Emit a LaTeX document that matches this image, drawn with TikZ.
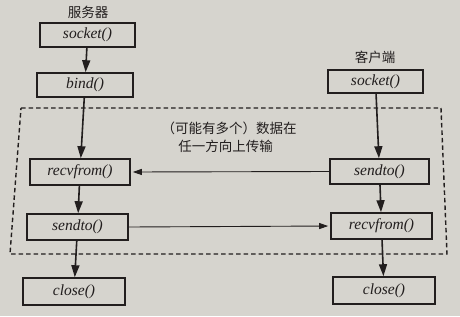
\documentclass[tikz,border=0pt]{standalone}
\usepackage{fontspec}
\setmainfont{Liberation Serif}
\newfontfamily\cjk{Noto Sans CJK SC}
\usetikzlibrary{arrows.meta}
\definecolor{paper}{RGB}{214,212,206}
\definecolor{ink}{RGB}{34,30,30}
\tikzset{
  fn/.style={draw=ink, line width=1.6pt, minimum height=24pt, inner sep=0pt,
             font=\fontsize{15.5}{15.5}\selectfont\itshape, text=ink},
  flow/.style={draw=ink, line width=1.6pt, -{Triangle[length=12pt,width=8pt]}},
  xfer/.style={draw=ink, line width=0.9pt, -{Triangle[length=9pt,width=6pt]}, shorten >=2pt},
  lbl/.style={font=\cjk\fontsize{13.5}{18}\selectfont, text=ink, inner sep=0pt},
}
\begin{document}
\begin{tikzpicture}[x=1pt,y=-1pt]
\fill[paper] (0,0) rectangle (460,316);
\useasboundingbox (0,0) rectangle (460,316);
% dashed region
\coordinate (d1) at (21,108);
\coordinate (d2) at (441,108);
\coordinate (d3) at (447,254);
\coordinate (d4) at (10,254);
\draw[ink, line width=1.4pt, dash pattern=on 4.5pt off 3pt] (d1) -- (d2) -- (d3) -- (d4) -- cycle;
% labels
\node[lbl] (server) at (88,12) {服务器};
\node[lbl] (client) at (375,57) {客户端};
\node[lbl, align=center] (note) at (229,137) {（可能有多个）数据在\\\hspace*{-0.5em}任一方向上传输};
% server column
\node[fn, minimum width=95pt] (sockL) at (87.5,35) {socket()};
\node[fn, minimum width=96pt] (bindL) at (85,85) {bind()};
\node[fn, minimum width=100pt, minimum height=26pt] (recvL) at (80,172) {recvfrom()};
\node[fn, minimum width=101pt, minimum height=26pt] (sendL) at (77.5,227) {sendto()};
\node[fn, minimum width=102pt, minimum height=27pt] (closeL) at (74,291.5) {close()};
% client column
\node[fn, minimum width=95pt, minimum height=23pt] (sockR) at (375.5,81.5) {socket()};
\node[fn, minimum width=99pt, minimum height=25pt] (sendR) at (379.5,171.5) {sendto()};
\node[fn, minimum width=101pt, minimum height=26pt] (recvR) at (381.5,226) {recvfrom()};
\node[fn, minimum width=102pt, minimum height=27pt] (closeR) at (384,290.5) {close()};
% flows
\draw[flow] (sockL) -- (bindL);
\draw[flow] (bindL) -- (recvL);
\draw[flow] (recvL) -- (sendL);
\draw[flow] (sendL) -- (closeL);
\draw[flow] (sockR) -- (sendR);
\draw[flow] (sendR) -- (recvR);
\draw[flow] (recvR) -- (closeR);
% transfers
\draw[xfer] (sendR.west) -- (recvL.east);
\draw[xfer] (sendL.east) -- (recvR.west);
\end{tikzpicture}
\end{document}
